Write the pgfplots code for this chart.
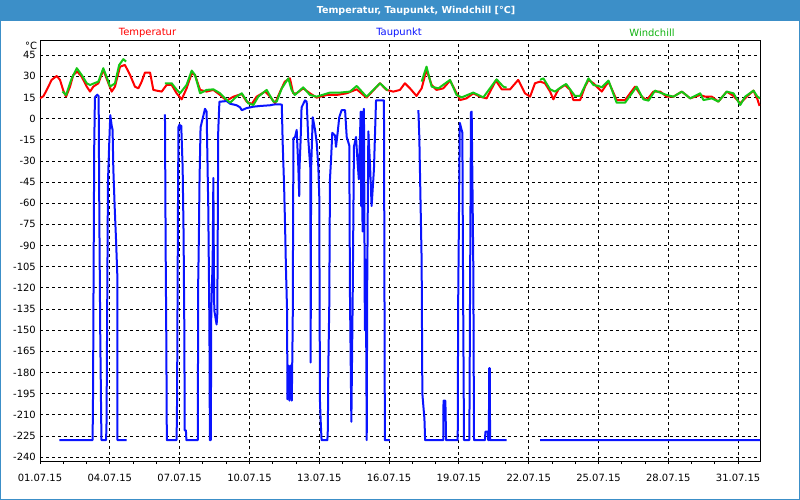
\documentclass[border=0pt]{standalone}
\usepackage{fontspec}
\setmainfont{DejaVu Sans}
\usepackage{pgfplots}
\pgfplotsset{compat=1.18}
\definecolor{bandblue}{RGB}{60,143,200}
\definecolor{tred}{RGB}{255,0,0}
\definecolor{tblue}{RGB}{10,20,255}
\definecolor{tgreen}{RGB}{20,200,20}
\begin{document}
\begin{tikzpicture}
\useasboundingbox (0,0) rectangle (800bp,500bp);
\fill[white] (0,0) rectangle (800bp,500bp);
\fill[bandblue] (0,479.3bp) rectangle (800bp,500bp);
\draw[bandblue, line width=1bp] (0.5bp,0.5bp) rectangle (799.5bp,499.5bp);
\node[white, font=\bfseries\fontsize{9.6}{10}\selectfont] at (416bp,489.5bp) {Temperatur, Taupunkt, Windchill [°C]};
\node[tred, font=\fontsize{10}{12}\selectfont] at (147.5bp,467bp) {Temperatur};
\node[tblue, font=\fontsize{10}{12}\selectfont] at (399bp,467bp) {Taupunkt};
\node[tgreen!90!black, font=\fontsize{10}{12}\selectfont] at (652bp,467bp) {Windchill};
\node[black, font=\fontsize{10}{12}\selectfont] at (31bp,454bp) {°C};
\begin{axis}[
  at={(40bp,39bp)}, anchor=south west,
  scale only axis, width=720bp, height=421bp,
  xmin=0, xmax=30.94, ymin=-242.8, ymax=55.8,
  axis line style={black, line width=0.8bp},
  xtick={0,3,...,30},
  xticklabels={01.07.15,04.07.15,07.07.15,10.07.15,13.07.15,16.07.15,19.07.15,22.07.15,25.07.15,28.07.15,31.07.15},
  minor x tick num=2,
  ytick={-240,-225,...,45},
  tick pos=left,
  tick align=outside,
  major tick length=3bp, minor tick length=3bp,
  ytick style={draw=none},
  tick style={black, line width=0.8bp},
  xmajorgrids, ymajorgrids,
  major grid style={black, dash pattern=on 3bp off 3bp, line width=0.8bp},
  /pgf/number format/assume math mode=true,
  tick label style={font=\fontsize{10}{12}\selectfont, text=black},
  yticklabel style={anchor=east, inner sep=0pt, xshift=-1bp},
  xticklabel style={anchor=north, inner sep=0pt, yshift=-10bp},
  unbounded coords=jump,
  clip=true,
]
% Temperatur
\addplot[tred, line width=2bp, line join=round] coordinates {
(0,14.4)(0.15,16)(0.29,20.4)(0.5,27.5)(0.72,30.3)(0.86,27.5)(1.0,20)(1.12,15.6)(1.29,22.7)(1.43,31)(1.6,33.4)(1.79,29.8)(2.01,22.7)(2.15,19.2)(2.29,22.7)(2.51,25.1)(2.72,34.6)(2.94,25.1)(3.08,19.2)(3.22,22.7)(3.44,36.9)(3.65,38.1)(3.87,31)(4.08,22.7)(4.23,21.5)(4.37,26.3)(4.51,32.7)(4.73,32.7)(4.87,20.4)(5.01,19.9)(5.23,19.2)(5.44,23.9)(5.66,23.9)(5.87,18)(6.09,13.7)(6.3,21.5)(6.52,32.2)(6.66,31)(6.88,20.4)(7.16,19.2)(7.45,20.4)(7.74,16.8)(8.02,12.8)(8.31,15.6)(8.67,17.5)(8.88,12.1)(9.1,10.4)(9.31,15.6)(9.67,19.2)(9.89,15.6)(10.1,10.9)(10.32,19.2)(10.52,26.3)(10.74,28.6)(10.88,18)(11.03,18)(11.31,21.5)(11.6,18)(11.89,14.9)(12.32,16.8)(12.75,16.8)(13.18,18)(13.61,20.8)(14.03,14.9)(14.61,25.1)(14.89,20.4)(15.18,19.2)(15.47,20.4)(15.68,25.1)(15.9,21.5)(16.18,16.1)(16.4,21.5)(16.61,34.6)(16.83,23.9)(17.04,20.4)(17.33,21.5)(17.62,27)(17.83,20.4)(18.05,13.2)(18.33,14.4)(18.62,18)(18.91,15.6)(19.19,14.4)(19.59,27)(19.84,20.8)(20.2,20.8)(20.55,27.5)(20.84,18)(21.06,15.6)(21.27,25.1)(21.49,26.3)(21.7,25.1)(21.92,19.2)(22.06,13.7)(22.28,20.8)(22.56,23.9)(22.78,20.4)(22.92,13.2)(23.21,13.2)(23.42,22.7)(23.57,27.5)(23.78,25.1)(24.0,21.5)(24.14,19.2)(24.43,26.3)(24.78,13.2)(25.14,13.2)(25.57,22.7)(25.86,15.6)(26.07,13.2)(26.36,19.2)(26.65,19.2)(26.93,15.6)(27.22,15.6)(27.58,19.2)(27.94,14.4)(28.37,16.8)(28.58,15.6)(28.87,15.6)(29.15,12.1)(29.51,19.2)(29.8,16.1)(30.09,10.9)(30.37,15.6)(30.66,19.9)(30.83,13.7)(30.92,9)
};
% Taupunkt
\addplot[tblue, line width=2bp, line join=round] coordinates {
(0.83,-228)(2.26,-228)(2.28,-195)(2.30,-120)(2.33,-20)(2.36,15)(2.40,16)(2.46,17)(2.52,16)(2.55,-70)(2.59,-155)(2.64,-228)(2.84,-228)(2.86,-215)(2.88,-155)(2.92,-45)(2.98,-15)(3.02,2.5)(3.08,-5)(3.12,-8)(3.15,-35)(3.21,-63)(3.27,-87)(3.32,-110)(3.33,-228)(3.72,-228)(3.73,nan)
(5.37,3)(5.40,-93)(5.43,-162)(5.45,-228)(5.87,-228)(5.89,-200)(5.91,-130)(5.93,-60)(5.95,-6)(6.0,-4)(6.03,-7)(6.07,-5)(6.10,-20)(6.13,-35)(6.17,-82)(6.20,-145)(6.22,-221)(6.27,-221)(6.29,-228)(6.78,-228)(6.80,-114)(6.83,-81)(6.85,-48)(6.90,-6)(6.99,0)(7.09,7)(7.16,5)(7.23,-62)(7.28,-146)(7.30,-228)(7.31,-150)(7.32,-228)(7.33,-140)(7.34,-228)(7.36,-136)(7.42,-100)(7.45,-42)(7.47,-100)(7.49,-136)(7.59,-146)(7.62,-138)(7.66,-8)(7.71,12)(8.02,12.5)(8.17,10.6)(8.45,9.5)(8.6,8)(8.67,6)(8.88,7.5)(9.17,8.5)(9.46,9)(9.89,9.5)(10.03,10)(10.2,10.2)(10.39,10)(10.43,-18)(10.46,-33)(10.49,-48)(10.53,-75)(10.57,-107)(10.62,-138)(10.63,-199)(10.67,-175)(10.72,-200)(10.77,-175)(10.82,-200)(10.86,-145)(10.89,-14)(10.96,-13)(11.03,-8)(11.10,-34)(11.14,-55)(11.15,-36)(11.20,-15)(11.24,8)(11.39,13)(11.46,12)(11.53,-15)(11.62,-36)(11.63,-173)(11.65,-36)(11.72,1)(11.82,-8)(11.89,-17)(11.96,-34)(12.0,-55)(12.03,-200)(12.06,-214)(12.10,-228)(12.35,-228)(12.37,-220)(12.39,-176)(12.43,-133)(12.46,-43)(12.51,-28)(12.56,-10)(12.68,-12)(12.72,-20)(12.79,-10)(12.86,1)(12.96,6)(13.11,6)(13.18,-13)(13.29,-19)(13.32,-125)(13.38,-215)(13.44,-122)(13.49,-20)(13.58,-13)(13.64,-29)(13.70,-43)(13.78,5)(13.80,-62)(13.84,5)(13.86,-80)(13.92,7)(13.96,-150)(14.0,-100)(14.04,-228)(14.06,-120)(14.11,-9)(14.18,-32)(14.25,-62)(14.35,-36)(14.44,13)(14.78,13)(14.82,-228)(15.04,-228)(15.05,nan)
(16.26,6)(16.30,-13)(16.40,-101)(16.43,-195)(16.47,-203)(16.52,-213)(16.55,-228)(17.33,-228)(17.34,-200)(17.42,-200)(17.45,-228)(17.95,-228)(17.97,-130)(18.04,-3)(18.15,-10)(18.18,-118)(18.22,-228)(18.45,-228)(18.48,-124)(18.52,4.5)(18.55,5)(18.62,-105)(18.65,-228)(19.12,-228)(19.14,-222)(19.24,-222)(19.26,-228)(19.29,-228)(19.30,-177)(19.33,-177)(19.34,-228)(20.05,-228)(20.06,nan)
(21.49,-228)(30.94,-228)
};
% Windchill
\addplot[tgreen, line width=2bp, line join=round] coordinates {
(0.97,19.2)(1.12,16.8)(1.35,28)(1.58,35.8)(1.79,31)(2.01,25.1)(2.15,23.9)(2.51,26.3)(2.72,35.8)(2.9,28)(3.01,22.7)(3.22,25)(3.4,38)(3.58,42.2)(3.7,40.5)(3.71,nan)
(5.37,25.1)(5.66,25.1)(5.85,21)(6.02,18)(6.3,24)(6.52,34.1)(6.66,31)(6.88,18)(7.16,20.4)(7.45,20.8)(7.74,18)(7.95,14.4)(8.17,11.3)(8.4,15)(8.67,18)(8.95,10.9)(9.17,9.7)(9.38,15.6)(9.74,20.4)(10.03,12.1)(10.17,12.1)(10.39,21.5)(10.67,28.6)(10.81,20.4)(10.95,16.8)(11.31,22.2)(11.6,16.8)(11.89,15.6)(12.46,18.5)(12.89,18.5)(13.32,19.2)(13.61,23.2)(14.03,15.6)(14.61,25.1)(14.89,20.8)(14.95,20)(14.96,nan)
(16.4,26.3)(16.61,36.9)(16.83,22.7)(17.12,21.5)(17.62,27.5)(17.9,16.8)(18.12,15.1)(18.62,18.5)(19.05,15.1)(19.62,27.9)(19.91,22.7)(20.05,22)(20.06,nan)
(21.49,27.5)(21.63,28.6)(21.92,20.8)(22.13,19.2)(22.42,22.7)(22.61,24.6)(22.85,19.2)(22.99,16.1)(23.21,16.1)(23.57,28.6)(23.78,23.9)(24.0,23.2)(24.14,22.2)(24.43,27)(24.78,11.3)(25.14,11.3)(25.64,22.7)(25.93,13.7)(26.15,12.8)(26.43,19.9)(26.72,18)(26.93,16.8)(27.22,15.6)(27.58,19.2)(27.94,14.4)(28.37,18)(28.51,13.2)(28.87,14.4)(29.15,12.1)(29.51,19.2)(29.8,18)(30.09,9.7)(30.3,15.6)(30.66,19.9)(30.83,15.6)(30.94,14.4)
};
\end{axis}
\end{tikzpicture}
\end{document}
